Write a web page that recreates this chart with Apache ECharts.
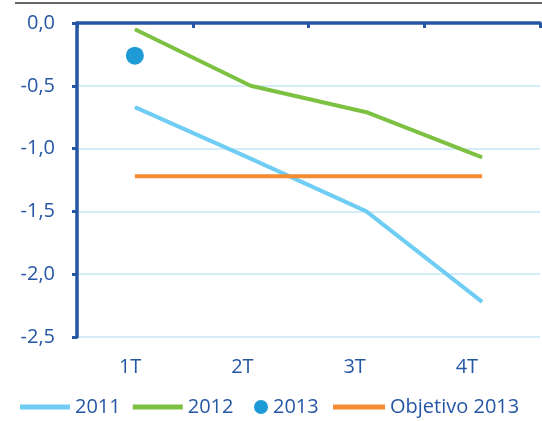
<!DOCTYPE html>
<html lang="es">
<head>
<meta charset="utf-8">
<title>Deficit trimestral</title>
<script src="https://cdn.jsdelivr.net/npm/echarts@6/dist/echarts.min.js"></script>
<style>
  html, body { margin: 0; padding: 0; background: #fff; }
  #chart { width: 542px; height: 421px; }
</style>
</head>
<body>
<div id="chart"></div>
<script>
// datos
var trimestres = ['1T', '2T', '3T', '4T'];
var serie2011 = [-0.67, -1.08, -1.50, -2.22];
var serie2012 = [-0.05, -0.50, -0.71, -1.07];
var serie2013 = [-0.26, null, null, null];
var objetivo2013 = [-1.22, -1.22, -1.22, -1.22];

var azul = '#2657a5';
var fuente = '"Open Sans", "Noto Sans", sans-serif';
var textoLeyenda = { color: azul, fontSize: 20, lineHeight: 22, fontFamily: fuente };

var myChart = echarts.init(document.getElementById('chart'));
var option = {
    animation: false,
    textStyle: { fontFamily: fuente },
    graphic: [{
        type: 'line',
        shape: { x1: 15, y1: 3, x2: 542, y2: 3 },
        style: { stroke: '#333', lineWidth: 1.5 }
    }],
    grid: [
        { left: 77, right: 2, top: 23, bottom: 84 },
        // rejilla solo para las etiquetas del eje x (van algo desplazadas en el original)
        { left: 74, right: 19, top: 23, bottom: 84 }
    ],
    // tres leyendas para poder dar a 2013 un punto más grande
    legend: [{
        top: 391, left: 15,
        itemWidth: 50, itemHeight: 5, itemGap: 12,
        textStyle: textoLeyenda,
        data: [{ name: '2011', icon: 'rect' }, { name: '2012', icon: 'rect' }]
    }, {
        top: 391, left: 249,
        itemWidth: 14, itemHeight: 14,
        textStyle: textoLeyenda,
        data: [{ name: '2013', icon: 'circle' }]
    }, {
        top: 391, left: 328,
        itemWidth: 52, itemHeight: 5,
        textStyle: textoLeyenda,
        data: [{ name: 'Objetivo 2013', icon: 'rect' }]
    }],
    xAxis: [{
        type: 'category',
        gridIndex: 0,
        data: trimestres,
        position: 'top',
        axisLine: { onZero: false, lineStyle: { color: azul, width: 3.5 } },
        axisTick: { show: true, inside: true, length: 5, lineStyle: { color: azul, width: 3 } },
        axisLabel: { show: false }
    }, {
        type: 'category',
        gridIndex: 1,
        data: trimestres,
        position: 'bottom',
        axisLine: { show: false },
        axisTick: { show: false },
        axisLabel: { color: azul, fontSize: 20, margin: 20, fontFamily: fuente }
    }],
    yAxis: [{
        type: 'value',
        gridIndex: 0,
        min: -2.5,
        max: 0,
        interval: 0.5,
        axisLine: { show: true, lineStyle: { color: azul, width: 3.5 } },
        axisTick: { show: true, length: 5, lineStyle: { color: azul, width: 3 } },
        axisLabel: {
            color: azul, fontSize: 20, margin: 22, fontFamily: fuente,
            formatter: function (v) { return v.toFixed(1).replace('.', ','); }
        },
        splitLine: { show: true, lineStyle: { color: '#c6e7f7', width: 1.5 } }
    }, {
        type: 'value',
        gridIndex: 1,
        min: -2.5,
        max: 0,
        show: false
    }],
    series: [
        {
            name: '2011', type: 'line', data: serie2011, symbol: 'none',
            lineStyle: { color: '#6fcdf4', width: 4 }, itemStyle: { color: '#6fcdf4' }
        },
        {
            name: '2012', type: 'line', data: serie2012, symbol: 'none',
            lineStyle: { color: '#7cc142', width: 4 }, itemStyle: { color: '#7cc142' }
        },
        {
            name: '2013', type: 'scatter', data: serie2013, symbolSize: 18,
            itemStyle: { color: '#1e9ad7', opacity: 1 }
        },
        {
            name: 'Objetivo 2013', type: 'line', data: objetivo2013, symbol: 'none',
            lineStyle: { color: '#f58b32', width: 4 }, itemStyle: { color: '#f58b32' }
        }
    ]
};
myChart.setOption(option);
</script>
</body>
</html>
